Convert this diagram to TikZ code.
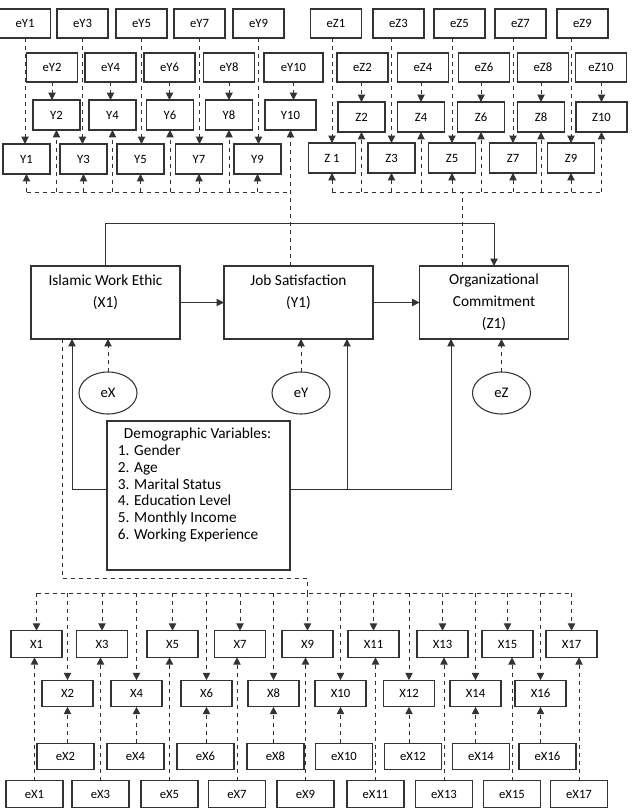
\documentclass[tikz,border=0pt]{standalone}
\usepackage{fontspec}
\setmainfont{Carlito}
\usetikzlibrary{arrows.meta,shapes.geometric}
\definecolor{edgegray}{HTML}{333333}

\tikzset{
    ind/.style={draw=edgegray, line width=0.8pt, inner sep=0pt, outer sep=0pt,
        minimum width=35.25pt, minimum height=22.5pt, font=\fontsize{9.5}{11}\selectfont},
    err/.style={ind, minimum width=38.25pt, minimum height=21.75pt},
    xind/.style={ind, minimum width=38.25pt, minimum height=20pt},
    xerr/.style={ind, minimum width=42.75pt, minimum height=20pt},
    latent/.style={draw=edgegray, line width=0.8pt, inner sep=0pt, outer sep=0pt,
        minimum width=111.75pt, minimum height=54.75pt, align=center,
        font=\fontsize{11.5}{16.5}\selectfont},
    dist/.style={ellipse, draw=edgegray, line width=0.8pt, inner sep=0pt, outer sep=0pt,
        minimum width=43.5pt, minimum height=31.5pt, font=\fontsize{11}{13}\selectfont},
    tip/.style={-{Triangle[length=5.5pt,width=5.5pt]}},
}

\begin{document}
\begin{tikzpicture}[x=0.75pt, y=-0.75pt, line width=0.75pt]
    \useasboundingbox (0,0) rectangle (636,810);
    \coordinate (topbus) at (0,192);
    \coordinate (xbus) at (0,593);

    \foreach \n/\x in {1/25,3/82.5,5/141.5,7/199.5,9/258.5}
        \node[err] (eY\n) at (\x,23.5) {eY\n};
    \foreach \n/\x in {2/52,4/110.5,6/169.5,8/229}
        \node[err] (eY\n) at (\x,67.5) {eY\n};
    \node[err, minimum width=44.25pt] (eY10) at (293.5,67.5) {eY10};
    \foreach \n/\x in {2/56.5,4/112.5,6/170,8/229}
        \node[ind] (Y\n) at (\x,115) {Y\n};
    \node[ind, minimum width=38.25pt] (Y10) at (290.5,115) {Y10};
    \foreach \n/\x in {1/26.5,3/83.5,5/140.5,7/199,9/257.5}
        \node[ind] (Y\n) at (\x,159) {Y\n};

    \foreach \n/\x in {1/336,3/398.5,5/459.5,7/520.5,9/582.5}
        \node[err] (eZ\n) at (\x,23.5) {eZ\n};
    \foreach \n/\x in {2/362.5,4/423,6/484,8/543,10/601}
        \node[err] (eZ\n) at (\x,67.5) {eZ\n};
    \foreach \n/\x in {2/361.5,4/421,6/481,8/541}
        \node[ind] (Z\n) at (\x,117) {Z\n};
    \node[ind, minimum width=38.25pt] (Z10) at (601.5,117) {Z10};
    \foreach \n/\x/\t in {1/332/Z 1,3/391.5/Z3,5/452/Z5,7/513/Z7,9/571/Z9}
        \node[ind] (Z\n) at (\x,158) {\t};

    \node[latent] (IWE) at (105.5,302.5) {Islamic Work Ethic\\(X1)\\\phantom{X}};
    \node[latent] (JS) at (298.5,302.5) {Job Satisfaction\\(Y1)\\\phantom{X}};
    \node[latent] (OC) at (494,302.5) {Organizational\\Commitment\\(Z1)};
    \node[dist] (eX) at (108,393) {eX};
    \node[dist] (eY) at (301,393) {eY};
    \node[dist] (eZ) at (501.5,393) {eZ};
    \node[draw=edgegray, line width=0.8pt, minimum width=137.25pt, minimum height=111.75pt]
        (demo) at (198.5,495.5) {};
    \node[anchor=north west, align=left, inner sep=0pt, font=\fontsize{11.5}{12.6}\selectfont]
        (demolist) at ([xshift=8.25pt,yshift=-5.25pt]demo.north west)
        {\hspace*{4.5pt}Demographic Variables:\\1. Gender\\2. Age\\3. Marital Status\\
        4. Education Level\\5. Monthly Income\\6. Working Experience};

    \foreach \n/\x in {1/36.5,3/102,5/172.5,7/240,9/307.5,11/373.5,13/442.5,15/507.5,17/571.5}
        \node[xind] (X\n) at (\x,644) {X\n};
    \foreach \n/\x in {2/67.5,4/136.5,6/206.5,8/273.5,10/340.5,12/409,14/475.5,16/540.5}
        \node[xind] (X\n) at (\x,693.5) {X\n};
    \foreach \n/\x in {2/65.5,4/135.5,6/205.5,8/275.5,10/344,12/413,14/481,16/547.5}
        \node[xerr] (eX\n) at (\x,756.5) {eX\n};
    \foreach \n/\x in {1/34.5,3/100.5,5/169.5,7/237,9/305.5,11/375.5,13/444,15/512,17/579}
        \node[xerr] (eX\n) at (\x,794) {eX\n};

    \coordinate (ztap) at (462,192);
    \coordinate (xl) at (62,578);
    \coordinate (toprail) at (0,223);
    \coordinate (lt) at (72,489);
    \coordinate (mt) at (347,489);
    \coordinate (rt) at (451,489);

    \begin{scope}[every edge/.style={draw=edgegray, dashed, tip}, edgegray, dashed]
        \draw (Y1 |- topbus) -- (Y10 |- topbus);
        \draw (Z1 |- topbus) -- (Z10 |- topbus);
        \draw (OC.north -| ztap) -- (ztap);
        \draw (IWE.south -| xl) -- (xl) -- (xl -| X9) -- (X9 |- xbus);
        \draw (X1 |- xbus) -- (X17 |- xbus);
        \foreach \n in {1,...,10}{
            \path (eY\n.south) edge (eY\n.south |- Y\n.north);
            \path (Z\n.north |- eZ\n.south) edge (Z\n.north);
            \path (Z\n |- topbus) edge (Z\n.south);
        }
        \foreach \n in {1,...,9}
            \path (Y\n |- topbus) edge (Y\n.south);
        \path (JS.north -| Y10) edge (Y10.south);
        \foreach \n in {1,...,17}
            \path (X\n |- xbus) edge (X\n.north);
        \foreach \n in {1,3,...,17}
            \path (eX\n.north) edge (eX\n.north |- X\n.south);
        \foreach \n in {2,4,...,16}
            \path (X\n.south |- eX\n.north) edge (X\n.south);
        \path (eX.north) edge (eX.north |- IWE.south);
        \path (eY.north) edge (eY.north |- JS.south);
        \path (eZ.north) edge (eZ.north |- OC.south);
    \end{scope}

    \begin{scope}[every edge/.style={draw=edgegray, tip}, edgegray]
        \path (IWE) edge (JS);
        \path (JS) edge (OC);
        \draw[tip] (IWE.north) -- (IWE.north |- toprail) -| (OC.north);
        \draw[tip] (demo.west |- lt) -- (lt) -- (lt |- IWE.south);
        \draw[tip] (demo.east |- rt) -- (rt) -- (rt |- OC.south);
        \path (mt) edge (mt |- JS.south);
    \end{scope}
\end{tikzpicture}
\end{document}
